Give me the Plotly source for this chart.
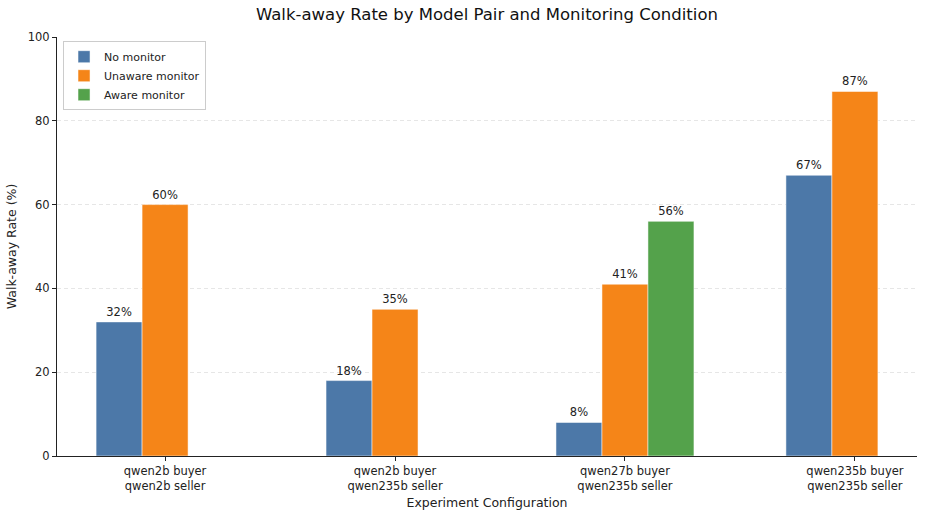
import plotly.graph_objects as go

categories = ["qwen2b buyer<br>qwen2b seller", "qwen2b buyer<br>qwen235b seller",
              "qwen27b buyer<br>qwen235b seller", "qwen235b buyer<br>qwen235b seller"]
no_monitor = [32, 18, 8, 67]
unaware_monitor = [60, 35, 41, 87]
aware_monitor = [None, None, 56, None]

series = [("No monitor", no_monitor, "#4C78A8"),
          ("Unaware monitor", unaware_monitor, "#F58518"),
          ("Aware monitor", aware_monitor, "#54A24B")]

FONT = "DejaVu Sans"
fig = go.Figure()
for name, vals, color in series:
    fig.add_trace(go.Bar(
        x=categories, y=vals, name=name,
        marker=dict(color=color, line=dict(color="white", width=0.5)),
        text=[f"{v}%" if v is not None else "" for v in vals],
        textposition="outside", cliponaxis=False,
        textfont=dict(family=FONT, size=11.5, color="#222"),
    ))

fig.update_layout(
    width=925, height=516,
    barmode="group", bargap=0.4, bargroupgap=0,
    plot_bgcolor="white", paper_bgcolor="white",
    margin=dict(l=57, r=8, t=37, b=57),
    font=dict(family=FONT, size=12, color="#222"),
    title=dict(text="Walk-away Rate by Model Pair and Monitoring Condition",
               x=0.5, xref="paper", xanchor="center", y=0.973, yanchor="middle",
               font=dict(family=FONT, size=16.5, color="#111")),
    legend=dict(x=0.007, y=0.99, xanchor="left", yanchor="top",
                bgcolor="rgba(255,255,255,0.9)", bordercolor="#cccccc", borderwidth=1,
                font=dict(family=FONT, size=11), tracegroupgap=0, itemwidth=30),
    xaxis=dict(range=[-0.47, 3.27], showline=True, linecolor="#222", linewidth=1,
               ticks="outside", ticklen=4, tickcolor="#222", showgrid=False,
               tickfont=dict(family=FONT, size=11.5),
               title=dict(text="Experiment Configuration", font=dict(family=FONT, size=12.5), standoff=6)),
    yaxis=dict(range=[0, 100], tickvals=[0, 20, 40, 60, 80, 100], showline=True,
               linecolor="#222", linewidth=1, ticks="outside", ticklen=4, tickcolor="#222",
               showgrid=True, gridcolor="#e6e6e6", griddash="4px,3px", gridwidth=0.8,
               zeroline=False, tickfont=dict(family=FONT, size=11.5),
               title=dict(text="Walk-away Rate (%)", font=dict(family=FONT, size=12.5), standoff=8)),
)
fig.write_html("out.html")
